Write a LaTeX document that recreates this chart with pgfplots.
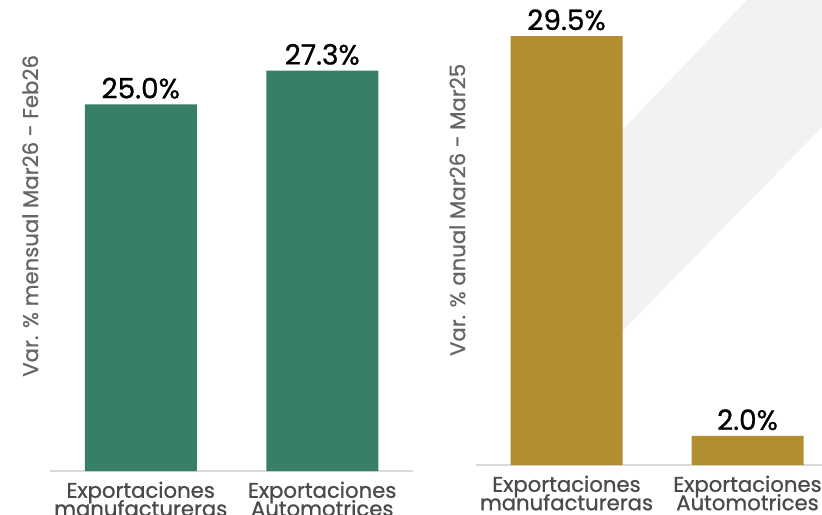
\documentclass[border=0pt]{standalone}
\usepackage{pgfplots}
\pgfplotsset{compat=1.18}
\usepackage{fontspec}
\setmainfont{Poppins}[FakeBold=0.8]

\definecolor{verde}{HTML}{377F68}
\definecolor{oro}{HTML}{B38E31}
\definecolor{banda}{HTML}{F2F2F2}
\definecolor{txtgris}{HTML}{4A4A4A}
\definecolor{lblgris}{HTML}{666666}

\newcommand\tickfont{\fontsize{10.6}{9.2}\selectfont\lineskiplimit=-20pt\relax}

\pgfplotsset{
  panel/.style={
    scale only axis, width=181.5pt,
    ymin=0, xmin=-0.5, xmax=1.5,
    ybar, bar width=56pt,
    axis x line=bottom, axis y line=left,
    x axis line style={draw=black!15, line width=0.6pt, -},
    y axis line style={draw=none},
    ytick=\empty, xtick={0,1}, xtick style={draw=none},
    xticklabels={{Exportaciones\\manufactureras},{Exportaciones\\Automotrices}},
    xticklabel style={align=center, font=\tickfont,
      text=txtgris, inner sep=0pt, yshift=-3pt},
    /pgf/number format/assume math mode=true,
    nodes near coords={\pgfmathprintnumber[fixed,fixed zerofill,precision=1]{\pgfplotspointmeta}\%},
    every node near coord/.append style={anchor=base, yshift=3pt,
      font=\fontsize{14}{14}\selectfont, text=black},
    clip=false,
  },
}

\begin{document}
\begin{tikzpicture}
\useasboundingbox (0,0) rectangle (411pt,257pt);
\clip (0,0) rectangle (411pt,257pt);
\fill[white] (0,0) rectangle (411pt,257pt);
% franja gris decorativa
\fill[banda] (290pt,170pt) -- (373.5pt,257pt) -- (420pt,257pt) -- (420pt,187pt)
  -- (411pt,193.5pt) -- (290pt,70pt) -- cycle;

% panel izquierdo: variacion mensual
\begin{axis}[panel, at={(25pt,21.5pt)}, anchor=south west,
  height=220pt, ymax=30,
  every axis y label/.style={at={(axis description cs:-0.033,0.58)},
    rotate=90, anchor=base, font=\fontsize{10.6}{10.6}\selectfont, text=lblgris},
  ylabel={Var. \% mensual Mar26 - Feb26}]
  \addplot[fill=verde, draw=none] coordinates {(0,25.0) (1,27.3)};
\end{axis}

% panel derecho: variacion anual
\begin{axis}[panel, at={(238pt,24.5pt)}, anchor=south west,
  height=225.4pt, ymax=31, width=181pt,
  every axis y label/.style={at={(axis description cs:-0.030,0.566)},
    rotate=90, anchor=base, font=\fontsize{10.6}{10.6}\selectfont, text=lblgris},
  ylabel={Var. \% anual Mar26 - Mar25}]
  \addplot[fill=oro, draw=none] coordinates {(0,29.5) (1,2.0)};
\end{axis}
\end{tikzpicture}
\end{document}
